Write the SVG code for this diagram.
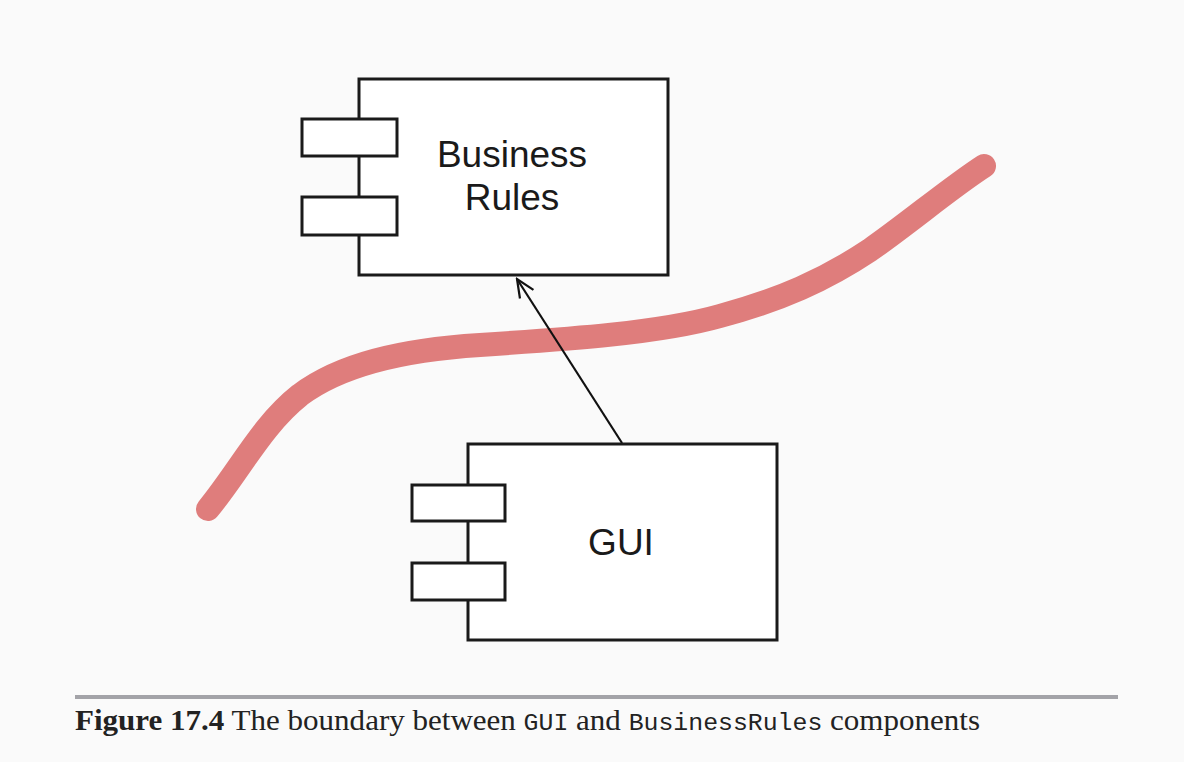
<svg xmlns="http://www.w3.org/2000/svg" width="1184" height="762" viewBox="0 0 1184 762">
<style>
.box{fill:#fff;stroke:#1a1a1a;stroke-width:3}
.lbl{font-family:"Liberation Sans",Arial,sans-serif;font-size:37px;fill:#1a1a1a;text-anchor:middle}
.cap{font-family:"Liberation Serif","DejaVu Serif",serif;font-size:30px;fill:#222}
.mono{font-family:"Liberation Mono","DejaVu Sans Mono",monospace;font-size:24px}
</style>
<defs>
<marker id="open" markerWidth="22" markerHeight="22" refX="20" refY="11" orient="auto" markerUnits="userSpaceOnUse">
<path d="M2,3 L20,11 L2,19" fill="none" stroke="#111" stroke-width="2.2"/>
</marker>
</defs>
<rect width="1184" height="762" fill="#fafafa"/>
<path d="M208,509 C240,470 262,425 300,395 C340,365 400,350 480,345 C570,339 660,333 720,316 C780,300 825,280 870,250 C910,222 950,188 984,166" fill="none" stroke="#df7d7c" stroke-width="24" stroke-linecap="round" stroke-linejoin="round"/>
<g id="business-rules">
<rect class="box" x="359" y="79" width="309" height="196"/>
<rect class="box" x="302" y="119" width="95" height="37"/>
<rect class="box" x="302" y="197" width="95" height="38"/>
<text class="lbl" x="512" y="167">Business</text>
<text class="lbl" x="512" y="210">Rules</text>
</g>
<g id="gui">
<rect class="box" x="468" y="444" width="309" height="196"/>
<rect class="box" x="412" y="485" width="93" height="36"/>
<rect class="box" x="412" y="563" width="93" height="37"/>
<text class="lbl" x="621" y="555">GUI</text>
</g>
<g id="connectors">
<line x1="622" y1="443" x2="517" y2="279" stroke="#111" stroke-width="2.2" marker-end="url(#open)"/>
</g>
<g id="caption">
<rect x="75" y="695" width="1043" height="4" fill="#a3a3a8"/>
<text class="cap" x="75" y="730" textLength="905" lengthAdjust="spacingAndGlyphs"><tspan font-weight="bold">Figure 17.4</tspan> The boundary between <tspan class="mono">GUI</tspan> and <tspan class="mono">BusinessRules</tspan> components</text>
</g>
</svg>
